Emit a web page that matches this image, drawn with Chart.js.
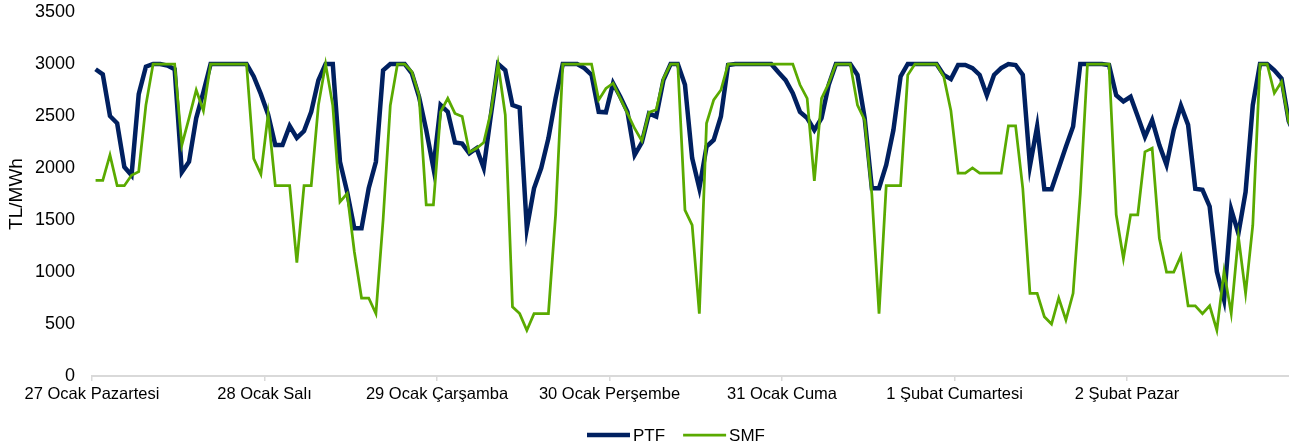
<!DOCTYPE html>
<html>
<head>
<meta charset="utf-8">
<script src="https://cdn.jsdelivr.net/npm/chart.js@4.4.1/dist/chart.umd.min.js"></script>
<style>
  html, body { margin: 0; padding: 0; background: #fff; overflow: hidden; }
  #wrap { width: 1289px; height: 445px; }
</style>
</head>
<body>
<div id="wrap"><canvas id="chart" width="1289" height="445"></canvas></div>
<script>
// Day labels, one per 24 hourly points
const days = ['27 Ocak Pazartesi', '28 Ocak Salı', '29 Ocak Çarşamba', '30 Ocak Perşembe',
              '31 Ocak Cuma', '1 Şubat Cumartesi', '2 Şubat Pazar'];

// PTF (TL/MWh), hourly, 27 Jan - 2 Feb
const ptf = [
  2950, 2900, 2500, 2430, 2010, 1930, 2710, 2975, 3000, 3000, 2985, 2950, 1960, 2060, 2480, 2730, 3000, 3000, 3000, 3000, 3000, 3000, 2880, 2710,
  2515, 2220, 2220, 2405, 2290, 2355, 2540, 2845, 3000, 3000, 2060, 1770, 1420, 1420, 1805, 2060, 2940, 3000, 3000, 3000, 2910, 2685, 2365, 2000,
  2605, 2540, 2245, 2235, 2140, 2190, 2000, 2510, 3000, 2940, 2605, 2580, 1420, 1805, 2000, 2285, 2670, 3000, 3000, 3000, 2960, 2895, 2540, 2535,
  2815, 2685, 2540, 2125, 2245, 2525, 2495, 2845, 3000, 3000, 2800, 2095, 1805, 2205, 2270, 2495, 2990, 3000, 3000, 3000, 3000, 3000, 3000, 2920,
  2845, 2720, 2540, 2480, 2365, 2480, 2800, 3000, 3000, 3000, 2895, 2480, 1805, 1805, 2030, 2365, 2880, 3000, 3000, 3000, 3000, 3000, 2895, 2855,
  2990, 2990, 2960, 2895, 2700, 2895, 2960, 3000, 2990, 2895, 2020, 2400, 1795, 1795, 2000, 2205, 2400, 3000, 3000, 3000, 3000, 2990, 2700, 2640,
  2685, 2495, 2300, 2460, 2220, 2030, 2365, 2600, 2415, 1800, 1790, 1630, 1005, 735, 1600, 1370, 1770, 2605, 3000, 3000, 2940, 2860, 2450, 2300
];

// SMF (TL/MWh), hourly
const smf = [
  1880, 1880, 2125, 1830, 1830, 1930, 1965, 2605, 3000, 3000, 3000, 3000, 2220, 2480, 2750, 2550, 3000, 3000, 3000, 3000, 3000, 3000, 2090, 1940,
  2515, 1830, 1830, 1830, 1090, 1830, 1830, 2605, 3000, 2600, 1675, 1755, 1195, 750, 750, 600, 1500, 2600, 3000, 3000, 2925, 2700, 1645, 1645,
  2540, 2670, 2525, 2495, 2150, 2190, 2245, 2540, 3000, 2510, 665, 600, 440, 600, 600, 600, 1550, 3000, 3000, 3000, 3000, 3000, 2655, 2765,
  2815, 2670, 2525, 2380, 2260, 2535, 2560, 2860, 3000, 3000, 1595, 1450, 600, 2430, 2655, 2750, 3000, 3000, 3000, 3000, 3000, 3000, 3000, 3000,
  3000, 3000, 2800, 2670, 1875, 2670, 2815, 3000, 3000, 3000, 2605, 2460, 1750, 600, 1830, 1830, 1830, 2895, 3000, 3000, 3000, 3000, 2880, 2550,
  1950, 1950, 2000, 1950, 1950, 1950, 1950, 2405, 2405, 1805, 795, 795, 570, 500, 750, 540, 795, 1750, 3000, 3000, 3000, 3000, 1550, 1130,
  1550, 1550, 2155, 2190, 1325, 1000, 1000, 1155, 675, 675, 600, 675, 440, 1005, 600, 1340, 795, 1450, 3000, 3000, 2720, 2830, 2445, 2300
];

const FONT = '"Liberation Sans", Arial, sans-serif';
const NAVY = '#002060';
const GREEN = '#5aaa00';

// points sit in the middle of each hour slot, like the original category axis
const toPoints = arr => arr.map((v, i) => ({ x: i + 0.5, y: v }));

// simple legend drawn under the axis
const bottomLegend = {
    id: 'bottomLegend',
    afterDraw(chart) {
        const ctx = chart.ctx;
        const items = [chart.data.datasets[0], chart.data.datasets[1]];
        const lineLen = 43, gap = 3, itemGap = 18;
        ctx.save();
        ctx.font = '17px ' + FONT;
        const widths = items.map(d => ctx.measureText(d.label).width);
        const total = widths.reduce((a, w) => a + lineLen + gap + w, 0) + itemGap;
        let x = 676 - total / 2;
        const y = 435;
        items.forEach((d, i) => {
            ctx.strokeStyle = d.borderColor;
            ctx.lineWidth = d.borderWidth;
            ctx.beginPath();
            ctx.moveTo(x, y);
            ctx.lineTo(x + lineLen, y);
            ctx.stroke();
            ctx.fillStyle = '#000';
            ctx.textAlign = 'left';
            ctx.textBaseline = 'middle';
            ctx.fillText(d.label, x + lineLen + gap, y + 1);
            x += lineLen + gap + widths[i] + itemGap;
        });
        ctx.restore();
    }
};

new Chart(document.getElementById('chart'), {
    type: 'line',
    data: {
        datasets: [
            { label: 'PTF', data: toPoints(ptf), borderColor: NAVY, borderWidth: 4.5,
              pointRadius: 0, tension: 0, order: 2 },
            { label: 'SMF', data: toPoints(smf), borderColor: GREEN, borderWidth: 2.75,
              pointRadius: 0, tension: 0, order: 1 }
        ]
    },
    options: {
        responsive: false,
        animation: false,
        layout: { padding: { top: 12, right: 0, bottom: 0, left: 0 } },
        plugins: { legend: { display: false }, tooltip: { enabled: false } },
        scales: {
            x: {
                type: 'linear',
                min: 0,
                max: (1289 - 92) / 7.1875,
                afterBuildTicks: scale => {
                    scale.ticks = days.map((d, i) => ({ value: i * 24 }));
                },
                afterFit: scale => { scale.height = 69; },
                ticks: {
                    callback: v => days[Math.round(v / 24)],
                    font: { family: FONT, size: 16.5 },
                    color: '#000',
                    maxRotation: 0,
                    autoSkip: false,
                    padding: 4
                },
                grid: { drawOnChartArea: false, drawTicks: true, tickLength: 5, color: '#d9d9d9', lineWidth: 1.5 },
                border: { display: true, color: '#d9d9d9', width: 2 }
            },
            y: {
                min: 0,
                max: 3500,
                afterFit: scale => {
                    scale.width = 92;
                    scale.paddingTop = 0;
                    scale.paddingBottom = 0;
                },
                ticks: {
                    stepSize: 500,
                    callback: v => String(v),
                    font: { family: FONT, size: 18 },
                    color: '#000',
                    padding: 17
                },
                grid: { display: false, drawTicks: false },
                border: { display: false },
                title: {
                    display: true,
                    text: 'TL/MWh',
                    font: { family: FONT, size: 19 },
                    color: '#000',
                    padding: { top: 5, bottom: 0 }
                }
            }
        }
    },
    plugins: [bottomLegend]
});
</script>
</body>
</html>
